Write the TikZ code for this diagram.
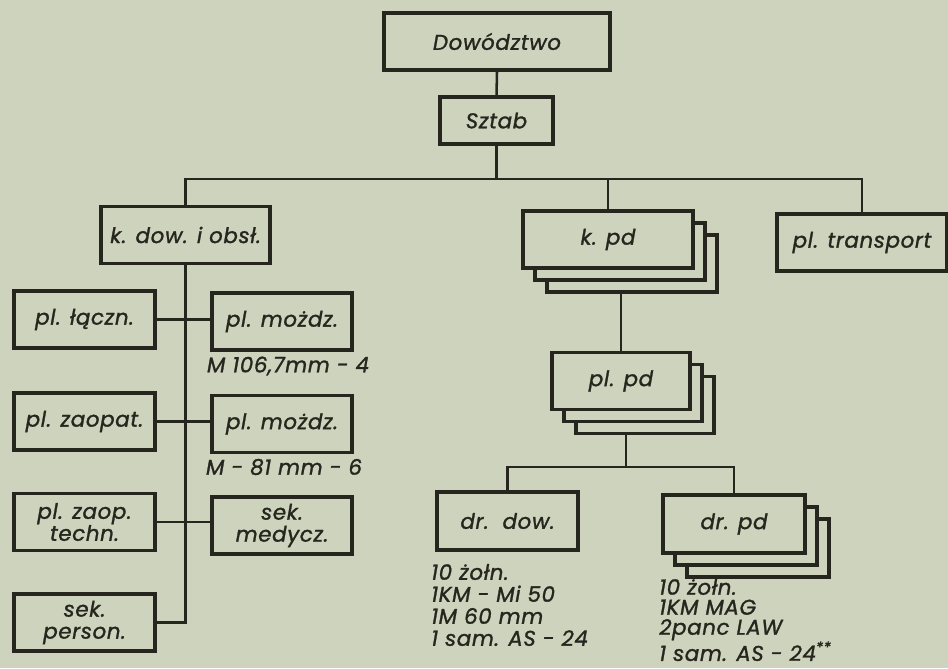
\documentclass[tikz,border=0pt]{standalone}
\usepackage{fontspec}
\setmainfont{Poppins}[LetterSpace=3,ItalicFeatures={FakeBold=1.3}]
\usetikzlibrary{calc,shadows}
\definecolor{Paper}{HTML}{CED3BD}
\definecolor{Ink}{HTML}{26261F}
\newcommand\lettering{\fontsize{16}{16.5}\selectfont\itshape}

\tikzset{
  box/.style={draw=Ink,fill=Paper,line width=2.6pt,minimum width=#1,
    minimum height=43pt,align=center,inner sep=1pt,font=\lettering,text=Ink},
  box/.default=106pt,
  stack/.style={
    copy shadow={shadow xshift=18pt,shadow yshift=-18pt,fill=Paper,draw=Ink},
    copy shadow={shadow xshift=9pt,shadow yshift=-9pt,fill=Paper,draw=Ink}},
  link/.style={draw=Ink,line width=1.9pt},
  note/.style={align=left,inner sep=0pt,font=\lettering,text=Ink}
}

\begin{document}
\begin{tikzpicture}[x=0.75pt,y=-0.75pt]
  \fill[Paper] (0,0) rectangle (948,668);
  \useasboundingbox (0,0) rectangle (948,668);

  % top of the chart
  \node[box=169.5pt] (dow) at (497,41.5) {Dowództwo};
  \node[box=85pt,minimum height=35pt] (sztab) at (496.5,120.5) {Sztab};
  \node[box=127pt,inner sep=0pt] (kdow) at (185.5,235) {k. dow. i obsł.};
  \node[box=127.5pt,stack] (kpd) at (608,239.5) {k. pd};
  \node[box=127.5pt,inner sep=0pt] (transport) at (862,242.5) {pl. transport};

  % company of command and service
  \node[box] (placzn) at (84.5,319.5) {pl. łączn.};
  \node[box=105pt] (moz1) at (282,321.5) {pl. możdz.};
  \node[note] (moz1lbl) at (288,366) {M 106,7mm - 4};
  \node[box] (zaopat) at (84.5,421.5) {pl. zaopat.};
  \node[box=105pt] (moz2) at (282,424) {pl. możdz.};
  \node[note] (moz2lbl) at (284,467) {M - 81 mm - 6};
  \node[box] (techn) at (84.5,522) {pl. zaop.\\ techn.};
  \node[box=105pt] (sekmed) at (282,525.5) {sek.\\ medycz.};
  \node[box] (person) at (84.5,622.5) {sek.\\ person.};

  % platoon and squads
  \node[box=103.5pt,stack] (plpd) at (621,381) {pl. pd};
  \node[box,minimum height=43.5pt] (drdow) at (507.5,521) {dr.~~dow.};
  \node[box=106.5pt,minimum height=43.5pt,stack] (drpd) at (734,524) {dr. pd};
  \node[note,anchor=west] (drdowlbl) at (431,605)
    {10 żołn.\\ 1KM - Mi 50\\ 1M 60 mm\\ 1 sam. AS - 24};
  \node[note,anchor=west,font=\fontsize{16}{15}\selectfont\itshape] (drpdlbl) at (659,620)
    {10 żołn.\\ 1KM MAG\\ 2panc LAW\\ 1 sam. AS - 24\textsuperscript{**}};

  % connectors
  \coordinate (bar) at (496,179);
  \coordinate (kpdfoot) at ($(kpd.south)+(0,24)$);
  \coordinate (plpdfoot) at ($(plpd.south)+(5,24)$);
  \coordinate (fork) at (626,467);
  \draw[link] (dow.south) -- (sztab.north);
  \draw[link] (sztab.south) -- (sztab.south |- bar);
  \draw[link] (kdow.north) |- (bar) -| (transport.north);
  \draw[link] (kpd.north) -- (kpd.north |- bar);
  \draw[link] (plpd.north) -- (plpd.north |- kpdfoot);
  \draw[link] (plpdfoot) -- (plpdfoot |- fork);
  \draw[link] (drdow.north) |- (fork) -| (drpd.north);
  \draw[link] (kdow.south) -- (kdow.south |- person.east) -- (person.east);
  \draw[link] (placzn.east) -- (placzn.east -| moz1.west);
  \draw[link] (zaopat.east) -- (zaopat.east -| moz2.west);
  \draw[link] (techn.east) -- (techn.east -| sekmed.west);
\end{tikzpicture}
\end{document}
